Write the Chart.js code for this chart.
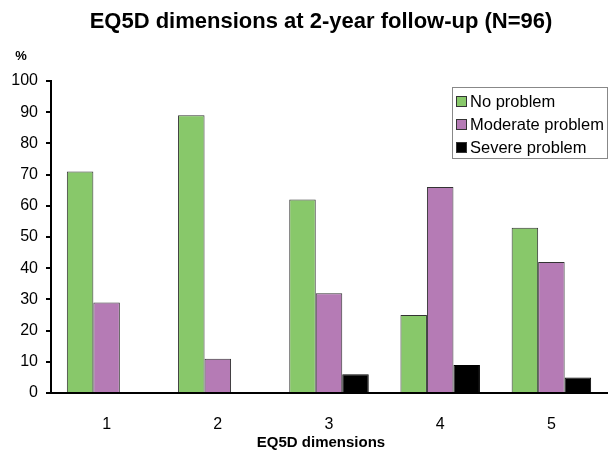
<!DOCTYPE html>
<html>
<head>
<meta charset="utf-8">
<script src="https://cdn.jsdelivr.net/npm/chart.js@4/dist/chart.umd.min.js"></script>
<style>
  html, body { margin: 0; padding: 0; background: #fff; }
  #wrap { width: 610px; height: 453px; }
</style>
</head>
<body>
<div id="wrap"><canvas id="c" width="610" height="453"></canvas></div>
<script>
// EQ5D dimension labels and share of patients (%) per response level
const dimensions = ['1', '2', '3', '4', '5'];
const noProblem = [71, 89, 62, 25, 53];
const moderateProblem = [29, 11, 32, 66, 42];
const severeProblem = [0, 0, 6, 9, 5];
const yTicks = [0, 10, 20, 30, 40, 50, 60, 70, 80, 90, 100];

const FONT = '"Liberation Sans", Arial, sans-serif';

// Title, unit label, axis title and boxed legend
const decorations = {
  id: 'decorations',
  afterDraw(chart) {
    const ctx = chart.ctx;
    ctx.save();
    ctx.fillStyle = '#000';
    ctx.textBaseline = 'middle';
    ctx.textAlign = 'center';
    ctx.font = 'bold 22px ' + FONT;
    ctx.fillText('EQ5D dimensions at 2-year follow-up (N=96)', 321, 22);
    ctx.font = 'bold 13px ' + FONT;
    ctx.fillText('%', 21, 56);
    ctx.font = 'bold 15px ' + FONT;
    ctx.fillText('EQ5D dimensions', 321, 443);

    // legend
    const lx = 452, ly = 87, lw = 155, lh = 71;
    ctx.fillStyle = '#fff';
    ctx.fillRect(lx, ly, lw, lh);
    ctx.strokeStyle = '#888';
    ctx.lineWidth = 1;
    ctx.strokeRect(lx + 0.5, ly + 0.5, lw, lh);
    ctx.textAlign = 'left';
    ctx.font = '16.5px ' + FONT;
    chart.data.datasets.forEach((ds, i) => {
      const cy = ly + 14 + i * 23;
      ctx.fillStyle = ds.backgroundColor;
      ctx.fillRect(lx + 4, cy - 5, 11, 11);
      ctx.strokeStyle = '#333';
      ctx.strokeRect(lx + 4.5, cy - 4.5, 10, 10);
      ctx.fillStyle = '#000';
      ctx.fillText(ds.label, lx + 18, cy + 1);
    });
    ctx.restore();
  }
};

new Chart(document.getElementById('c'), {
  type: 'bar',
  data: {
    labels: dimensions,
    datasets: [
      { label: 'No problem', data: noProblem, backgroundColor: '#88c86a', borderColor: '#333333', borderWidth: 1, borderSkipped: 'start' },
      { label: 'Moderate problem', data: moderateProblem, backgroundColor: '#b57bb5', borderColor: '#333333', borderWidth: 1, borderSkipped: 'start' },
      { label: 'Severe problem', data: severeProblem, backgroundColor: '#000000', borderColor: '#000000', borderWidth: 1, borderSkipped: 'start' }
    ]
  },
  options: {
    responsive: false,
    animation: false,
    devicePixelRatio: 1,
    layout: { padding: { left: 3, right: 3, top: 81, bottom: 0 } },
    plugins: { legend: { display: false }, title: { display: false }, tooltip: { enabled: false } },
    datasets: { bar: { categoryPercentage: 0.715, barPercentage: 1.0 } },
    scales: {
      x: {
        grid: { display: false },
        border: { display: true, color: '#000', width: 2 },
        ticks: { color: '#000', font: { family: FONT, size: 16 }, padding: 14 },
        afterFit(scale) { scale.height = 60; }
      },
      y: {
        min: 0, max: 100,
        afterBuildTicks(scale) { scale.ticks = yTicks.map(v => ({ value: v })); },
        grid: { drawOnChartArea: false, drawTicks: true, tickLength: 5, color: '#000', lineWidth: 2 },
        border: { display: true, color: '#000', width: 2 },
        ticks: { color: '#000', font: { family: FONT, size: 16 }, padding: 8 },
        afterFit(scale) { scale.width = 48; }
      }
    }
  },
  plugins: [decorations]
});
</script>
</body>
</html>
